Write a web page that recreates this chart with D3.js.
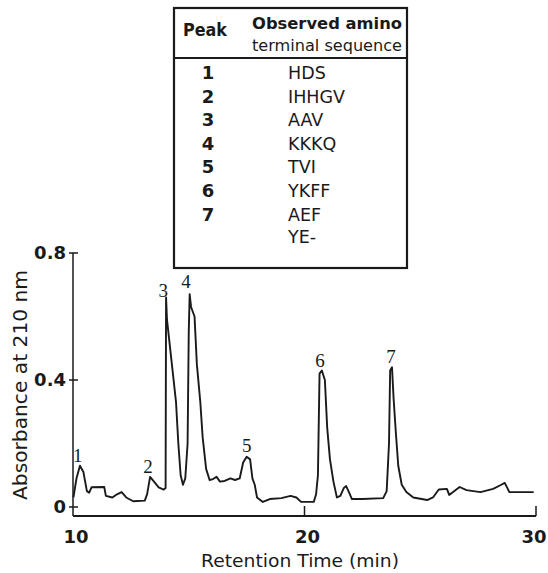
<!DOCTYPE html>
<html><head><meta charset="utf-8">
<script src="https://cdn.jsdelivr.net/npm/d3@7"></script>
<style>body{margin:0;background:#fff}svg{display:block}</style>
</head><body>
<svg id="c" width="548" height="573"></svg>
<script>
const retentionTime = [10.02,10.15,10.3,10.45,10.6,10.7,10.8,11.35,11.42,11.7,11.9,12.1,12.3,12.6,13.1,13.2,13.33,13.5,13.7,13.92,14.0,14.02,14.06,14.15,14.3,14.45,14.55,14.65,14.75,14.85,14.95,15.0,15.04,15.1,15.25,15.35,15.5,15.6,15.75,15.9,16.05,16.2,16.35,16.55,16.8,17.0,17.2,17.35,17.5,17.65,17.75,17.85,17.95,18.2,18.5,19.0,19.4,19.65,19.85,20.4,20.5,20.58,20.65,20.75,20.88,20.98,21.1,21.25,21.4,21.55,21.7,21.8,21.9,22.05,22.5,23.4,23.55,23.65,23.7,23.78,23.85,23.95,24.05,24.2,24.4,24.7,25.3,25.55,25.8,26.15,26.25,26.7,27.0,27.6,28.15,28.5,28.65,28.85,29.9];
const absorbance = [0.03,0.09,0.13,0.11,0.05,0.045,0.062,0.063,0.035,0.03,0.04,0.047,0.03,0.018,0.02,0.04,0.095,0.08,0.062,0.055,0.06,0.66,0.59,0.53,0.43,0.33,0.2,0.1,0.07,0.09,0.2,0.55,0.67,0.63,0.6,0.45,0.33,0.22,0.12,0.085,0.088,0.095,0.08,0.082,0.09,0.085,0.09,0.14,0.158,0.15,0.09,0.07,0.03,0.016,0.025,0.028,0.035,0.03,0.016,0.016,0.04,0.1,0.42,0.43,0.40,0.25,0.15,0.08,0.03,0.035,0.06,0.066,0.05,0.025,0.025,0.028,0.05,0.2,0.43,0.44,0.34,0.23,0.13,0.07,0.047,0.03,0.022,0.03,0.055,0.057,0.038,0.063,0.053,0.047,0.057,0.07,0.076,0.047,0.047];

const peakNumbers = ["1","2","3","4","5","6","7"];
const peakLabelTime = [10.2,13.24,13.9,14.88,17.5,20.67,23.74];
const peakLabelAbs = [0.142,0.107,0.66,0.69,0.173,0.44,0.453];

const tablePeaks = ["1","2","3","4","5","6","7",""];
const tableSequences = ["HDS","IHHGV","AAV","KKKQ","TVI","YKFF","AEF","YE-"];

const xTicks = [10,20,30];
const yTicks = [0,0.4,0.8];
const yTickLabels = ["0","0.4","0.8"];

const svg = d3.select("#c");
const x = d3.scaleLinear().domain([10,30]).range([73,536]);
const y = d3.scaleLinear().domain([0,0.8]).range([507,253]);
const sans = "'DejaVu Sans', Verdana, sans-serif";
const ink = "#1a1a1a";
const axisY = 516;

// axes
const g = svg.append("g").attr("stroke",ink).attr("fill","none");
g.append("line").attr("x1",x(10)).attr("x2",x(30)).attr("y1",axisY).attr("y2",axisY).attr("stroke-width",2);
g.append("line").attr("x1",x(10)).attr("x2",x(10)).attr("y1",y(0.8)).attr("y2",axisY).attr("stroke-width",1.5);
yTicks.forEach(v=>{
  g.append("line").attr("x1",x(10)-4).attr("x2",x(10)+5).attr("y1",y(v)).attr("y2",y(v)).attr("stroke-width",1.5);
});
xTicks.slice(1).forEach(t=>{
  g.append("line").attr("x1",x(t)).attr("x2",x(t)).attr("y1",axisY).attr("y2",axisY-10).attr("stroke-width",1.5);
});
svg.selectAll(".ytl").data(yTicks).enter().append("text")
  .attr("x",x(10)-7).attr("y",v=>y(v)+6).attr("text-anchor","end")
  .attr("font-family",sans).attr("font-size",18).attr("font-weight","bold").attr("fill",ink)
  .text((v,i)=>yTickLabels[i]);
svg.selectAll(".xtl").data(xTicks).enter().append("text")
  .attr("x",t=>x(t)+(t===30?-2:3)).attr("y",543).attr("text-anchor","middle")
  .attr("font-family",sans).attr("font-size",18).attr("font-weight","bold").attr("fill",ink)
  .text(t=>t);
svg.append("text").attr("x",300).attr("y",567).attr("text-anchor","middle")
  .attr("font-family",sans).attr("font-size",18).attr("fill",ink)
  .attr("textLength",198).attr("lengthAdjust","spacingAndGlyphs").text("Retention Time (min)");
svg.append("text").attr("transform","translate(27,385) rotate(-90)").attr("text-anchor","middle")
  .attr("font-family",sans).attr("font-size",19).attr("fill",ink)
  .attr("textLength",230).attr("lengthAdjust","spacingAndGlyphs").text("Absorbance at 210 nm");

// trace
const line = d3.line().x((d,i)=>x(retentionTime[i])).y((d,i)=>y(absorbance[i]));
svg.append("path").datum(absorbance).attr("d",line).attr("fill","none")
  .attr("stroke",ink).attr("stroke-width",1.9).attr("stroke-linejoin","round");

// peak labels
svg.selectAll(".pl").data(peakNumbers).enter().append("text")
  .attr("x",(d,i)=>x(peakLabelTime[i])).attr("y",(d,i)=>y(peakLabelAbs[i]))
  .attr("text-anchor","middle").attr("font-family","'Liberation Serif', 'Times New Roman', serif")
  .attr("font-size",19).attr("fill",ink).text(d=>d);

// table
const tb = svg.append("g");
tb.append("rect").attr("x",174).attr("y",8).attr("width",233).attr("height",260)
  .attr("fill","#fff").attr("stroke",ink).attr("stroke-width",2.2);
tb.append("line").attr("x1",174).attr("x2",407).attr("y1",58).attr("y2",58).attr("stroke",ink).attr("stroke-width",2);
tb.append("text").attr("x",183).attr("y",36).attr("font-family",sans).attr("font-size",17).attr("font-weight","bold").attr("fill",ink)
  .attr("textLength",44).attr("lengthAdjust","spacingAndGlyphs").text("Peak");
tb.append("text").attr("x",252).attr("y",29).attr("font-family",sans).attr("font-size",16).attr("font-weight","bold").attr("fill",ink)
  .attr("textLength",150).attr("lengthAdjust","spacingAndGlyphs").text("Observed amino");
tb.append("text").attr("x",252).attr("y",51).attr("font-family",sans).attr("font-size",16).attr("fill",ink)
  .attr("textLength",150).attr("lengthAdjust","spacingAndGlyphs").text("terminal sequence");
const rowY = i => 79 + i*23.6 + (i===7?-1:0);
tb.selectAll(".tp").data(tablePeaks).enter().append("text")
  .attr("x",208).attr("y",(d,i)=>rowY(i)).attr("text-anchor","middle")
  .attr("font-family",sans).attr("font-size",18).attr("font-weight","bold").attr("fill",ink).text(d=>d);
tb.selectAll(".ts").data(tableSequences).enter().append("text")
  .attr("x",288).attr("y",(d,i)=>rowY(i)).attr("font-family",sans).attr("font-size",17.5)
  .attr("fill",ink).text(d=>d);
</script>
</body></html>
